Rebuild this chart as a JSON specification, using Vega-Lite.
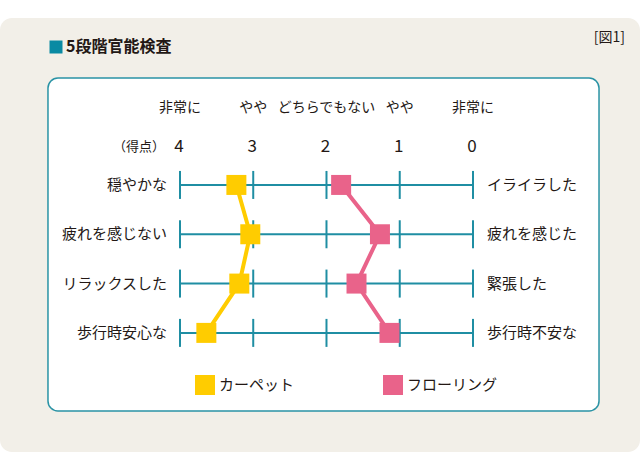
{
  "$schema": "https://vega.github.io/schema/vega-lite/v6.json",
  "width": 640,
  "height": 470,
  "autosize": {"type": "none"},
  "padding": 0,
  "background": "#ffffff",
  "config": {
    "view": {"stroke": null},
    "text": {"font": "Noto Sans CJK JP", "color": "#231815"}
  },
  "datasets": {
    "rows": [
      {"r": 1, "left": "穏やかな", "right": "イライラした"},
      {"r": 2, "left": "疲れを感じない", "right": "疲れを感じた"},
      {"r": 3, "left": "リラックスした", "right": "緊張した"},
      {"r": 4, "left": "歩行時安心な", "right": "歩行時不安な"}
    ],
    "grid": [
      {"r": 1, "v": 4}, {"r": 1, "v": 3}, {"r": 1, "v": 2}, {"r": 1, "v": 1}, {"r": 1, "v": 0},
      {"r": 2, "v": 4}, {"r": 2, "v": 3}, {"r": 2, "v": 2}, {"r": 2, "v": 1}, {"r": 2, "v": 0},
      {"r": 3, "v": 4}, {"r": 3, "v": 3}, {"r": 3, "v": 2}, {"r": 3, "v": 1}, {"r": 3, "v": 0},
      {"r": 4, "v": 4}, {"r": 4, "v": 3}, {"r": 4, "v": 2}, {"r": 4, "v": 1}, {"r": 4, "v": 0}
    ],
    "levels": [
      {"v": 4, "head": "非常に"},
      {"v": 3, "head": "やや"},
      {"v": 2, "head": "どちらでもない"},
      {"v": 1, "head": "やや"},
      {"v": 0, "head": "非常に"}
    ],
    "scores": [
      {"series": "カーペット", "r": 1, "v": 3.23},
      {"series": "カーペット", "r": 2, "v": 3.04},
      {"series": "カーペット", "r": 3, "v": 3.19},
      {"series": "カーペット", "r": 4, "v": 3.64},
      {"series": "フローリング", "r": 1, "v": 1.80},
      {"series": "フローリング", "r": 2, "v": 1.27},
      {"series": "フローリング", "r": 3, "v": 1.59},
      {"series": "フローリング", "r": 4, "v": 1.14}
    ]
  },
  "layer": [
    {
      "data": {"values": [{}]},
      "mark": {"type": "rect", "fill": "#f2efe8", "cornerRadius": 12},
      "encoding": {
        "x": {"datum": 6.457, "type": "quantitative", "scale": {"type": "linear", "domain": [-2.28, 6.457], "reverse": true, "nice": false, "zero": false}, "axis": null},
        "x2": {"datum": -2.28},
        "y": {"datum": -2.385, "type": "quantitative", "scale": {"type": "linear", "domain": [-2.75, 6.78], "reverse": true, "nice": false, "zero": false}, "axis": null},
        "y2": {"datum": 6.415}
      }
    },
    {
      "data": {"values": [{}]},
      "mark": {"type": "rect", "fill": "#ffffff", "stroke": "#2a93a5", "strokeWidth": 1.5, "cornerRadius": 10},
      "encoding": {
        "x": {"datum": 5.802, "type": "quantitative"},
        "x2": {"datum": -1.7205},
        "y": {"datum": -1.1685, "type": "quantitative"},
        "y2": {"datum": 5.583}
      }
    },
    {
      "data": {"name": "rows"},
      "mark": {"type": "rule", "stroke": "#1f8ea3", "strokeWidth": 2},
      "encoding": {
        "x": {"datum": 4, "type": "quantitative"},
        "x2": {"datum": 0},
        "y": {"field": "r", "type": "quantitative"}
      }
    },
    {
      "data": {"name": "grid"},
      "mark": {"type": "tick", "orient": "vertical", "color": "#1f8ea3", "size": 28, "thickness": 2, "opacity": 1},
      "encoding": {
        "x": {"field": "v", "type": "quantitative"},
        "y": {"field": "r", "type": "quantitative"}
      }
    },
    {
      "data": {"name": "scores"},
      "mark": {"type": "line", "strokeWidth": 4},
      "encoding": {
        "x": {"field": "v", "type": "quantitative"},
        "y": {"field": "r", "type": "quantitative"},
        "color": {
          "field": "series", "type": "nominal",
          "scale": {"domain": ["カーペット", "フローリング"], "range": ["#ffcc00", "#e9638a"]},
          "legend": {
            "title": null, "orient": "none", "legendX": 195, "legendY": 375, "direction": "horizontal",
            "symbolType": "square", "symbolSize": 400, "symbolStrokeWidth": 0, "symbolOpacity": 1,
            "labelFont": "Noto Sans CJK JP", "labelFontSize": 15, "labelColor": "#231815",
            "labelOffset": 4, "columnPadding": 88
          }
        },
        "order": {"field": "r", "type": "quantitative"}
      }
    },
    {
      "data": {"name": "scores"},
      "mark": {"type": "point", "shape": "square", "filled": true, "size": 400, "opacity": 1, "strokeWidth": 0},
      "encoding": {
        "x": {"field": "v", "type": "quantitative"},
        "y": {"field": "r", "type": "quantitative"},
        "color": {
          "field": "series", "type": "nominal",
          "scale": {"domain": ["カーペット", "フローリング"], "range": ["#ffcc00", "#e9638a"]},
          "legend": {
            "title": null, "orient": "none", "legendX": 195, "legendY": 375, "direction": "horizontal",
            "symbolType": "square", "symbolSize": 400, "symbolStrokeWidth": 0, "symbolOpacity": 1,
            "labelFont": "Noto Sans CJK JP", "labelFontSize": 15, "labelColor": "#231815",
            "labelOffset": 4, "columnPadding": 88
          }
        }
      }
    },
    {
      "data": {"name": "rows"},
      "mark": {"type": "text", "align": "right", "baseline": "middle", "dx": -13, "fontSize": 15},
      "encoding": {
        "x": {"datum": 4, "type": "quantitative"},
        "y": {"field": "r", "type": "quantitative"},
        "text": {"field": "left"}
      }
    },
    {
      "data": {"name": "rows"},
      "mark": {"type": "text", "align": "left", "baseline": "middle", "dx": 14, "fontSize": 15},
      "encoding": {
        "x": {"datum": 0, "type": "quantitative"},
        "y": {"field": "r", "type": "quantitative"},
        "text": {"field": "right"}
      }
    },
    {
      "data": {"name": "levels"},
      "mark": {"type": "text", "align": "center", "baseline": "middle", "fontSize": 14},
      "encoding": {
        "x": {"field": "v", "type": "quantitative"},
        "y": {"datum": -0.56, "type": "quantitative"},
        "text": {"field": "head"}
      }
    },
    {
      "data": {"name": "levels"},
      "mark": {"type": "text", "align": "center", "baseline": "middle", "fontSize": 17, "dx": -1},
      "encoding": {
        "x": {"field": "v", "type": "quantitative"},
        "y": {"datum": 0.23, "type": "quantitative"},
        "text": {"field": "v", "type": "quantitative", "format": "d"}
      }
    },
    {
      "data": {"values": [{"t": "（得点）"}]},
      "mark": {"type": "text", "align": "right", "baseline": "middle", "fontSize": 13, "dx": -15},
      "encoding": {
        "x": {"datum": 4, "type": "quantitative"},
        "y": {"datum": 0.23, "type": "quantitative"},
        "text": {"field": "t"}
      }
    },
    {
      "data": {"values": [{}]},
      "mark": {"type": "point", "shape": "square", "filled": true, "size": 169, "color": "#0a8aa3", "opacity": 1, "strokeWidth": 0},
      "encoding": {
        "x": {"datum": 5.6925, "type": "quantitative"},
        "y": {"datum": -1.797, "type": "quantitative"}
      }
    },
    {
      "data": {"values": [{"t": "5段階官能検査"}]},
      "mark": {"type": "text", "align": "left", "baseline": "middle", "fontSize": 16, "fontWeight": "bold"},
      "encoding": {
        "x": {"datum": 5.556, "type": "quantitative"},
        "y": {"datum": -1.797, "type": "quantitative"},
        "text": {"field": "t"}
      }
    },
    {
      "data": {"values": [{"t": "[図1]"}]},
      "mark": {"type": "text", "align": "right", "baseline": "middle", "fontSize": 14},
      "encoding": {
        "x": {"datum": -2.0755, "type": "quantitative"},
        "y": {"datum": -1.98, "type": "quantitative"},
        "text": {"field": "t"}
      }
    }
  ]
}
